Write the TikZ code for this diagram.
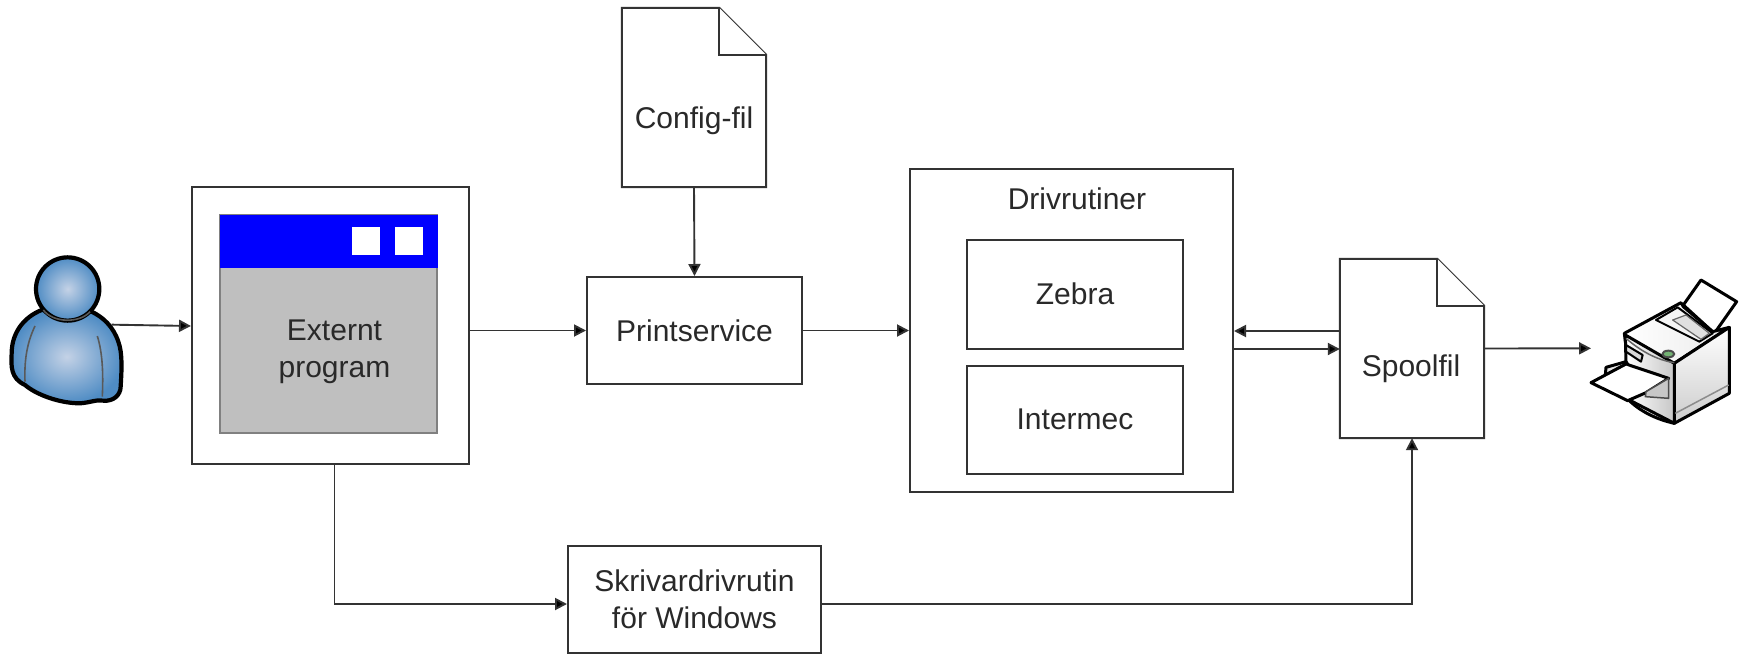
\documentclass[tikz,border=0pt]{standalone}
\usepackage{fontspec}
\setmainfont{Liberation Sans}
\usetikzlibrary{arrows.meta,calc,shapes.geometric}
\definecolor{ink}{HTML}{333333}
\definecolor{persb}{HTML}{4F8CC4}
\definecolor{persl}{HTML}{C4D2E6}
\tikzset{
  x=1pt,y=-1pt,
  txt/.style={font=\fontsize{30}{37}\selectfont,text=ink!80!black,align=center,inner sep=0pt},
  bx/.style={draw=ink,line width=2pt,fill=white,inner sep=0pt,line join=miter,font=\fontsize{30}{37}\selectfont,text=ink!80!black,align=center},
  doc/.style={inner sep=0pt},
  docline/.style={draw=ink,line width=2pt,fill=white,line join=miter},
  conn/.style={draw=ink,line width=1.9pt},
  arr/.style={conn,-{Triangle[length=12pt,width=12pt,fill=black]}},
  pline/.style={draw=black,line width=4.2pt,line join=round},
  thin line/.style={draw=black!65,line width=1.6pt},
}
\newcommand{\docshape}[2]{%
  \draw[docline] (#1.north west) -- ($(#1.north east)+(-#2,0)$) -- ($(#1.north east)+(0,#2)$) -- (#1.south east) -- (#1.south west) -- cycle;
  \draw[docline] ($(#1.north east)+(-#2,0)$) -- ($(#1.north east)+(-#2,#2)$) -- ($(#1.north east)+(0,#2)$);
}
\begin{document}
\begin{tikzpicture}
\useasboundingbox (0,0) rectangle (1746,654);
\fill[white] (0,0) rectangle (1746,654);

% Externt program
\node[bx,minimum width=277pt,minimum height=277pt] (ext) at (330.5,325.5) {};
\node[draw=black!50,line width=1.6pt,fill=black!25,minimum width=217pt,minimum height=218pt,inner sep=0pt] (win) at (328.5,324) {};
\node[fill=blue,minimum width=218pt,minimum height=53pt,inner sep=0pt] (bar) at (328.5,241.5) {};
\node[fill=white,minimum size=28pt,inner sep=0pt] (b1) at (366,240.5) {};
\node[fill=white,minimum size=28pt,inner sep=0pt] (b2) at (409,240.5) {};
\node[txt] (exttxt) at (334.5,351.5) {Externt\\program};

% Config
\node[doc,minimum width=144pt,minimum height=179pt] (cfg) at (694,97.5) {};
\docshape{cfg}{47}
\node[txt] (cfgtxt) at (694,121) {Config-fil};

% Printservice
\node[bx,minimum width=215pt,minimum height=107pt] (ps) at (694.5,330.5) {Printservice};

% Drivrutiner
\node[bx,minimum width=323pt,minimum height=323pt] (drv) at (1071.5,330.5) {};
\node[txt] (drvtxt) at (1077,199) {Drivrutiner};
\node[bx,minimum width=216pt,minimum height=109pt] (zeb) at (1075,294.5) {\raisebox{1pt}{Zebra}};
\node[bx,minimum width=216pt,minimum height=108pt] (int) at (1075,420) {\raisebox{1pt}{Intermec}};

% Spool
\node[doc,minimum width=144pt,minimum height=179pt] (spl) at (1412,348.5) {};
\docshape{spl}{47}
\node[txt] (spltxt) at (1411,369) {Spoolfil};

% Skrivar
\node[bx,minimum width=253pt,minimum height=107pt] (skr) at (694.5,599.5) {Skrivardrivrutin\\för Windows};

% Person
\begin{scope}[shift={(0,230)},x=0.3333pt,y=-0.3333pt]
  \coordinate (pershot) at (335,284);
  \path[pline,inner color=persl,outer color=persb]
    (125,240) .. controls (70,262) and (35,310) .. (35,370)
    .. controls (33,410) and (32,445) .. (75,465)
    .. controls (110,495) and (180,520) .. (240,520)
    .. controls (270,518) and (290,508) .. (310,512)
    .. controls (340,515) and (362,495) .. (362,470)
    .. controls (365,420) and (368,370) .. (355,335)
    .. controls (340,290) and (310,262) .. (275,245) -- cycle;
  \draw[thin line] (105,288) .. controls (85,330) and (72,380) .. (75,455);
  \draw[thin line] (292,318) .. controls (308,370) and (310,430) .. (307,500);
  \path[pline,inner color=persl,outer color=persb] (203,177) circle[radius=95];
  \draw[thin line] (130,240) .. controls (160,280) and (240,280) .. (270,245);
\end{scope}

% Printer
\begin{scope}[shift={(1546,250)},x=0.3333pt,y=-0.3333pt,line join=round]
  \coordinate (prn) at (135,295);
  % rear paper
  \path[draw=black,line width=3pt,fill=white] (465,90) -- (572,155) -- (505,250) -- (412,165) -- cycle;
  % body top
  \path[draw=black,line width=3pt,left color=white,right color=black!8] (235,250) -- (405,158) -- (412,170) -- (500,245) -- (550,232) -- (385,340) -- (240,290) -- cycle;
  % right face
  \path[draw=black,line width=3pt,top color=white,bottom color=black!20] (385,340) -- (550,232) -- (550,430) -- (385,520) -- cycle;
  % front face
  \path[draw=black,line width=3pt,left color=white,right color=black!22] (238,255) -- (385,340) -- (385,520) -- (250,450) -- (240,340) -- cycle;
  \draw[black!45,line width=1.5pt] (388,490) -- (548,405);
  % top details
  \path[draw=black,line width=2pt,fill=black!4] (330,210) -- (395,172) -- (500,250) -- (460,275) -- cycle;
  \path[draw=black!60,line width=1.2pt,fill=black!12] (380,210) -- (420,195) -- (490,250) -- (465,268) -- cycle;
  % slot and lamp
  \path[draw=black,line width=2pt,fill=black!15] (240,285) -- (290,315) -- (285,335) -- (240,305) -- cycle;
  \path[draw=black!70,line width=2pt,fill=green!45!black!55] (367,312) ellipse[x radius=18,y radius=10];
  \draw[black!60,line width=1.5pt] (240,265) .. controls (280,300) and (330,330) .. (385,338);
  % output tray and paper
  \path[draw=black,line width=3pt,fill=black!10] (178,375) -- (180,352) -- (240,335) -- (250,350) -- cycle;
  \path[draw=black,line width=3pt,fill=white] (135,398) -- (240,342) -- (368,385) -- (300,428) -- (245,452) -- cycle;
  \path[draw=black!70,line width=1.5pt,fill=black!22] (368,385) -- (368,445) -- (298,440) -- (300,425) -- cycle;
  \draw[black,line width=3pt] (250,452) .. controls (290,490) and (340,510) .. (385,520);
\end{scope}

% Connectors
\draw[arr] (pershot) -- (ext.west |- 0,326);
\draw[arr] (ext.east |- ps.west) -- (ps.west);
\draw[arr] (ps.east) -- (drv.west |- ps.east);
\draw[arr] (cfg.south) -- (ps.north);
\coordinate (backy) at (0,331);
\coordinate (fwdy) at (0,349);
\draw[arr] (spl.west |- backy) -- (drv.east |- backy);
\draw[arr] (drv.east |- fwdy) -- (spl.west |- fwdy);
\draw[arr] (spl.east) -- (prn);
\coordinate (lowy) at (0,604);
\draw[arr] (exttxt.center |- ext.south) -- (exttxt.center |- lowy) -- (skr.west |- lowy);
\draw[arr] (skr.east |- lowy) -- (spl.south |- lowy) -- (spl.south);
\end{tikzpicture}
\end{document}
